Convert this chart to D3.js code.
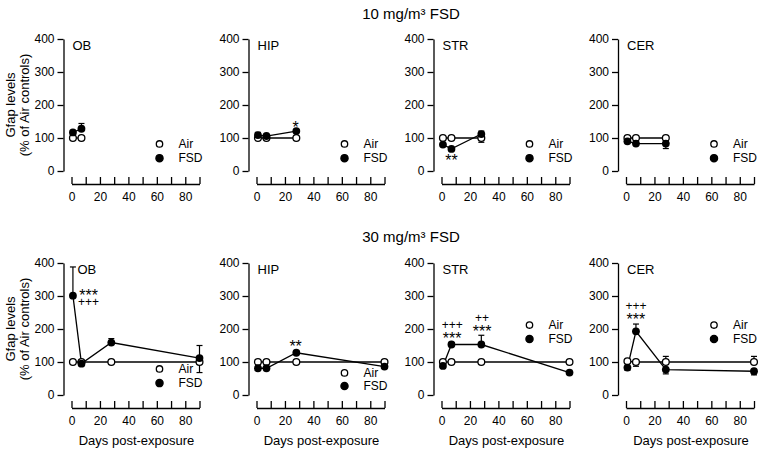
<!DOCTYPE html>
<html>
<head>
<meta charset="utf-8">
<script src="https://cdn.jsdelivr.net/npm/d3@7"></script>
<style>
  html, body { margin: 0; padding: 0; background: #fff; }
  svg { display: block; font-family: "Liberation Sans", Arial, sans-serif; }
</style>
</head>
<body>
<svg id="chart" width="764" height="450"></svg>
<script>
// ---------------- DATA ----------------
const regions = ["OB", "HIP", "STR", "CER"];
const rowTitles = ["10 mg/m\u00B3 FSD", "30 mg/m\u00B3 FSD"];
const yTicks = [0, 100, 200, 300, 400];
const xTicks = [0, 10, 20, 30, 40, 50, 60, 70, 80, 90];
const xTickLabels = ["0", "", "20", "", "40", "", "60", "", "80", ""];
const seriesNames = ["Air", "FSD"];

// 10 mg/m3 FSD
const days10_OB  = [1, 7];
const air10_OB   = [100, 100];
const airErr10_OB = [2, 3];
const fsd10_OB   = [117, 128];
const fsdErr10_OB = [4, 16];

const days10_HIP = [1, 7, 28];
const air10_HIP  = [100, 100, 100];
const airErr10_HIP = [3, 2, 3];
const fsd10_HIP  = [109, 106, 121];
const fsdErr10_HIP = [8, 4, 4];

const days10_STR = [1, 7, 28];
const air10_STR  = [100, 100, 100];
const airErr10_STR = [3, 3, 13];
const fsd10_STR  = [80, 67, 112];
const fsdErr10_STR = [4, 3, 9];

const days10_CER = [1, 7, 28];
const air10_CER  = [100, 100, 100];
const airErr10_CER = [3, 3, 4];
const fsd10_CER  = [90, 83, 83];
const fsdErr10_CER = [4, 3, 15];

// 30 mg/m3 FSD
const days30 = [1, 7, 28, 90];
const air30_OB  = [100, 100, 100, 100];
const airErr30_OB = [5, 4, 3, 32];
const fsd30_OB  = [301, 95, 159, 112];
const fsdErr30_OB = [87, 6, 12, 38];

const air30_HIP = [100, 100, 100, 100];
const airErr30_HIP = [3, 3, 3, 3];
const fsd30_HIP = [81, 81, 128, 86];
const fsdErr30_HIP = [4, 4, 6, 5];

const air30_STR = [100, 100, 100, 100];
const airErr30_STR = [3, 3, 3, 3];
const fsd30_STR = [88, 153, 153, 68];
const fsdErr30_STR = [5, 6, 28, 4];

const air30_CER = [102, 100, 100, 100];
const airErr30_CER = [4, 13, 17, 17];
const fsd30_CER = [83, 193, 77, 72];
const fsdErr30_CER = [8, 22, 13, 11];

// significance marks: [region, day, level of first line, lines (top to bottom)]
const notes10 = [["HIP", 27.5, 142, ["*"]], ["STR", 7, 42, ["**"]]];
const notes30 = [
  ["OB", 12, 312, ["***", "+++"]],
  ["HIP", 27.5, 158, ["**"]],
  ["STR", 7.5, 212, ["+++", "***"]],
  ["STR", 28.5, 233, ["++", "***"]],
  ["CER", 7, 270, ["+++", "***"]]
];

const panels10 = [
  [days10_OB, air10_OB, airErr10_OB, fsd10_OB, fsdErr10_OB],
  [days10_HIP, air10_HIP, airErr10_HIP, fsd10_HIP, fsdErr10_HIP],
  [days10_STR, air10_STR, airErr10_STR, fsd10_STR, fsdErr10_STR],
  [days10_CER, air10_CER, airErr10_CER, fsd10_CER, fsdErr10_CER]
];
const panels30 = [
  [days30, air30_OB, airErr30_OB, fsd30_OB, fsdErr30_OB],
  [days30, air30_HIP, airErr30_HIP, fsd30_HIP, fsdErr30_HIP],
  [days30, air30_STR, airErr30_STR, fsd30_STR, fsdErr30_STR],
  [days30, air30_CER, airErr30_CER, fsd30_CER, fsdErr30_CER]
];

// ---------------- LAYOUT ----------------
const FONT = 12;
const layout = {
  colX0: [71.5, 256.5, 441.5, 626],
  xSpan: 128,
  rows: [
    { top: 39, bottom: 171, titleY: 14, legendLv: [[82, 39], [82, 39], [82, 39], [82, 39]], legendDx: 88 },
    { top: 263, bottom: 395, titleY: 237, legendLv: [[79, 36], [67, 27], [212, 170], [212, 170]], legendDx: 88 }
  ]
};

const svg = d3.select("#chart");

function drawPanel(g, row, col, data, notes, rowIdx) {
  const [days, air, airErr, fsd, fsdErr] = data;
  const x0 = layout.colX0[col];
  const x = d3.scaleLinear().domain([0, 90]).range([x0, x0 + layout.xSpan]);
  const y = d3.scaleLinear().domain([0, 400]).range([row.bottom, row.top]);

  // y axis
  const ya = g.append("g")
    .attr("transform", `translate(${x0 - 8},0)`)
    .call(d3.axisLeft(y).tickValues(yTicks).tickSize(6).tickSizeOuter(0).tickPadding(3));
  ya.selectAll("text").attr("font-size", FONT).attr("font-family", null).attr("fill", "#000");
  ya.selectAll("line,path").attr("stroke", "#000").attr("stroke-width", 1.3);

  // x axis
  const xa = g.append("g")
    .attr("transform", `translate(0,${row.bottom + 13})`)
    .call(d3.axisBottom(x).tickValues(xTicks)
      .tickFormat((d, i) => xTickLabels[i]).tickSize(-7).tickSizeOuter(0).tickPadding(8));
  xa.selectAll("text").attr("font-size", FONT).attr("font-family", null).attr("fill", "#000");
  xa.selectAll("line,path").attr("stroke", "#000").attr("stroke-width", 1.3);

  if (rowIdx === 1) {
    g.append("text").attr("x", x0 + 65).attr("y", row.bottom + 50)
      .attr("text-anchor", "middle").attr("font-size", 13).text("Days post-exposure");
  }
  if (col === 0) {
    const cy = (row.top + row.bottom) / 2;
    g.append("text").attr("transform", `translate(15,${cy}) rotate(-90)`)
      .attr("text-anchor", "middle").attr("font-size", 13).text("Gfap levels");
    g.append("text").attr("transform", `translate(29,${cy}) rotate(-90)`)
      .attr("text-anchor", "middle").attr("font-size", 13).text("(% of Air controls)");
  }

  // region label
  g.append("text").attr("x", x0 + (rowIdx === 1 && col === 0 ? 6 : 1)).attr("y", row.top + 11)
    .attr("font-size", 13).text(regions[col]);

  const pts = days.map((d, i) => ({ d, air: air[i], ae: airErr[i], fsd: fsd[i], fe: fsdErr[i] }));
  const line = key => d3.line().x(p => x(p.d)).y(p => y(p[key]));

  g.append("path").datum(pts).attr("d", line("air")).attr("fill", "none")
    .attr("stroke", "#000").attr("stroke-width", 1.3);
  g.append("path").datum(pts).attr("d", line("fsd")).attr("fill", "none")
    .attr("stroke", "#000").attr("stroke-width", 1.3);

  // error bars: drawn away from the other series
  const errs = [];
  pts.forEach(p => {
    const up = p.fsd >= p.air;
    errs.push({ d: p.d, v: p.fsd, e: up ? p.fe : -p.fe });
    errs.push({ d: p.d, v: p.air, e: up ? -p.ae : p.ae });
  });
  const eg = g.append("g").attr("stroke", "#000").attr("stroke-width", 1.2);
  eg.selectAll(".ev").data(errs).join("line")
    .attr("x1", e => x(e.d)).attr("x2", e => x(e.d))
    .attr("y1", e => y(e.v)).attr("y2", e => y(e.v + e.e));
  eg.selectAll(".ec").data(errs).join("line")
    .attr("x1", e => x(e.d) - 3).attr("x2", e => x(e.d) + 3)
    .attr("y1", e => y(e.v + e.e)).attr("y2", e => y(e.v + e.e));

  g.selectAll(".air").data(pts).join("circle")
    .attr("cx", p => x(p.d)).attr("cy", p => y(p.air)).attr("r", 3.4)
    .attr("fill", "#fff").attr("stroke", "#000").attr("stroke-width", 1.3);
  g.selectAll(".fsd").data(pts).join("circle")
    .attr("cx", p => x(p.d)).attr("cy", p => y(p.fsd)).attr("r", 3.9)
    .attr("fill", "#000");

  // significance marks (stacked lines in one text element)
  notes.filter(n => n[0] === regions[col]).forEach(n => {
    const yc0 = y(n[2]);
    const t = g.append("text").attr("text-anchor", "middle");
    n[3].forEach((s, i) => {
      const star = s.includes("*");
      const fs = star ? 16 : 12;
      const yc = yc0 + i * 9.5;
      t.append("tspan").attr("x", x(n[1]))
        .attr("y", yc + (star ? 0.57 * fs : 0.35 * fs))
        .attr("font-size", fs).text(s);
    });
  });

  // legend
  const lv = row.legendLv[col];
  const lx = x0 + row.legendDx;
  seriesNames.forEach((s, i) => {
    const ly = y(lv[i]);
    g.append("circle").attr("cx", lx).attr("cy", ly).attr("r", i === 0 ? 3.2 : 3.6)
      .attr("fill", i === 0 ? "#fff" : "#000").attr("stroke", "#000").attr("stroke-width", 1.3);
    g.append("text").attr("x", lx + 19).attr("y", ly).attr("dy", "0.35em")
      .attr("font-size", FONT).text(s);
  });
}

layout.rows.forEach((row, r) => {
  svg.append("text").attr("x", 411).attr("y", row.titleY).attr("dy", "0.35em")
    .attr("text-anchor", "middle").attr("font-size", 15).text(rowTitles[r]);
  const dataRow = r === 0 ? panels10 : panels30;
  const notes = r === 0 ? notes10 : notes30;
  dataRow.forEach((data, c) => drawPanel(svg.append("g"), row, c, data, notes, r));
});
</script>
</body>
</html>
